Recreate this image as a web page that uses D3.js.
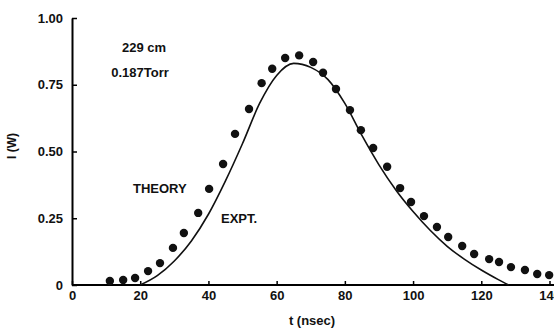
<!DOCTYPE html>
<html>
<head>
<meta charset="utf-8">
<script src="https://cdn.jsdelivr.net/npm/d3@7"></script>
<style>
  body { margin: 0; background: #fff; }
  text { font-family: "Liberation Sans", Arial, sans-serif; font-weight: bold; fill: #111; }
</style>
</head>
<body>
<div id="chart"></div>
<script>
// measured points (dots)
const exptT = [11.1, 15, 18.5, 22.3, 25.8, 29.6, 32.8, 37, 40.2, 44.3, 47.8, 51.9, 55.6, 58.7, 62.5, 66.6,
  70.7, 73.6, 77.4, 81.5, 84.7, 88.3, 92.4, 96.2, 99.4, 103.2, 107, 110.3, 114.4, 117.9, 122.3, 125.2,
  128.7, 132.8, 136.4, 139.9];
const exptI = [0.015, 0.019, 0.026, 0.052, 0.082, 0.139, 0.195, 0.27, 0.36, 0.453, 0.566, 0.659, 0.756, 0.81, 0.85, 0.86,
  0.835, 0.795, 0.734, 0.655, 0.58, 0.513, 0.443, 0.363, 0.311, 0.258, 0.217, 0.18, 0.146, 0.116, 0.097, 0.086,
  0.067, 0.056, 0.041, 0.037];

// theory curve (solid line)
const theoryT = [20, 25, 30, 35, 40, 45, 50, 55, 60, 65, 70, 75, 80, 85, 90, 95, 100, 105, 110, 115, 120, 125, 128];
const theoryI = [0, 0.035, 0.09, 0.165, 0.265, 0.39, 0.53, 0.68, 0.785, 0.83, 0.815, 0.77, 0.68, 0.56, 0.45, 0.355,
  0.275, 0.205, 0.145, 0.097, 0.056, 0.02, 0];

const xTicks = [0, 20, 40, 60, 80, 100, 120, 140];
const yTicks = [0, 0.25, 0.5, 0.75, 1.0];
const yTickLabels = ["0", "0.25", "0.50", "0.75", "1.00"];

const width = 554, height = 329;
const marginLeft = 72, marginRight = 4, marginTop = 18, marginBottom = 44;

const svg = d3.select("#chart").append("svg")
  .attr("width", width)
  .attr("height", height);

const x = d3.scaleLinear().domain([0, 140]).range([marginLeft, width - marginRight - 0.5]);
const y = d3.scaleLinear().domain([0, 1]).range([height - marginBottom, marginTop]);

// x axis
const gx = svg.append("g")
  .attr("transform", `translate(0,${height - marginBottom})`)
  .call(d3.axisBottom(x).tickValues(xTicks).tickFormat(d3.format("d")).tickSizeInner(-4).tickSizeOuter(0).tickPadding(6));
gx.select(".domain").attr("stroke-width", 2).attr("d", `M${marginLeft},0H${width}`);
gx.selectAll("line").attr("stroke-width", 1.5);
gx.selectAll("text").style("font-size", "13px").style("font-weight", "bold");

// y axis
const gy = svg.append("g")
  .attr("transform", `translate(${marginLeft},0)`)
  .call(d3.axisLeft(y).tickValues(yTicks).tickFormat((d, i) => yTickLabels[i]).tickSizeInner(-5).tickSizeOuter(0).tickPadding(9));
gy.select(".domain").attr("stroke-width", 2);
gy.selectAll("line").attr("stroke-width", 1.5);
gy.selectAll("text").style("font-size", "13px").style("font-weight", "bold");

// theory line
const line = d3.line()
  .x((d, i) => x(theoryT[i]))
  .y((d, i) => y(theoryI[i]))
  .curve(d3.curveMonotoneX);

svg.append("path")
  .datum(theoryI)
  .attr("fill", "none")
  .attr("stroke", "#111")
  .attr("stroke-width", 1.6)
  .attr("d", line);

// experimental dots
svg.selectAll(".dot")
  .data(exptT)
  .enter()
  .append("circle")
  .attr("class", "dot")
  .attr("cx", d => x(d))
  .attr("cy", (d, i) => y(exptI[i]))
  .attr("r", 4.2)
  .attr("fill", "#111");

// annotations
svg.append("text").attr("x", 144).attr("y", 52).attr("text-anchor", "middle")
  .style("font-size", "13px").text("229 cm");
svg.append("text").attr("x", 140).attr("y", 77).attr("text-anchor", "middle")
  .style("font-size", "13px").text("0.187Torr");
svg.append("text").attr("x", 133).attr("y", 193).style("font-size", "13px").text("THEORY");
svg.append("text").attr("x", 221).attr("y", 223).style("font-size", "13px").text("EXPT.");

// axis titles
svg.append("text")
  .attr("transform", `translate(16,146) rotate(-90)`)
  .attr("text-anchor", "middle")
  .style("font-size", "12px")
  .text("I (W)");
svg.append("text")
  .attr("x", 312)
  .attr("y", 325)
  .attr("text-anchor", "middle")
  .style("font-size", "13px")
  .text("t (nsec)");
</script>
</body>
</html>
